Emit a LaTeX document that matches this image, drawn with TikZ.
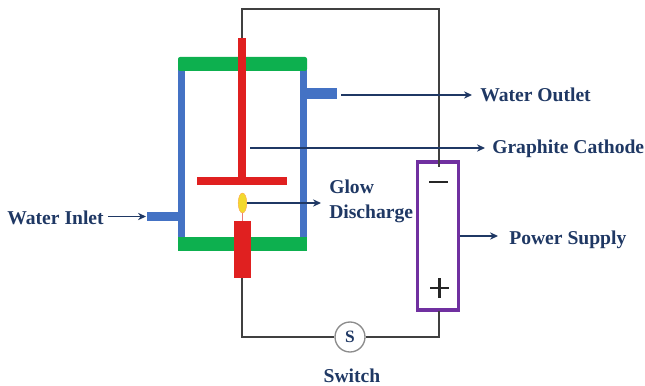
\documentclass[tikz,border=0pt]{standalone}
\usepackage{fontspec}
\setmainfont{Liberation Serif}
\usetikzlibrary{arrows.meta,shapes.geometric}
\definecolor{navy}{HTML}{1F3864}
\definecolor{wallblue}{HTML}{4472C4}
\definecolor{capgreen}{HTML}{0DB04F}
\definecolor{redpart}{HTML}{E02020}
\definecolor{flame}{HTML}{F2D92E}
\definecolor{boxpurple}{HTML}{7030A0}
\definecolor{wire}{HTML}{404040}
\tikzset{
 lab/.style={font=\bfseries\fontsize{14.7}{18.75}\selectfont,text=navy,inner sep=0pt},
 callout/.style={draw=navy,line width=0.9pt,-{Stealth[length=6pt,width=5.5pt]}},
 wireline/.style={draw=wire,line width=1.2pt},
 blockb/.style={fill=wallblue,draw=none},
 blockg/.style={fill=capgreen,draw=none},
 blockr/.style={fill=redpart,draw=none},
}
\begin{document}
\begin{tikzpicture}[x=0.75pt,y=-0.75pt]
\useasboundingbox (0,0) rectangle (645,385);
% wires
\coordinate (wtop) at (242,40);
\node[draw=black!45,fill=white,circle,line width=1pt,minimum size=22.5pt,inner sep=0pt,font=\bfseries\fontsize{13}{15}\selectfont,text=navy] (sw) at (350,337) {S};
\node[draw=boxpurple,line width=2.4pt,minimum width=31pt,minimum height=111pt,inner sep=0pt] (ps) at (438,236) {};
\coordinate (wbot) at (242,275);
\coordinate (wneg) at (439,167);
\draw[wireline] (wtop) -- (242,9) -- (439,9) -- (wneg);
\draw[wireline] (wbot) -- (242,337) -- (sw.west);
\draw[wireline] (sw.east) -- (439,337) -- (439,311);
% vessel
\fill[blockb] (178,60) rectangle (185,245);
\fill[blockb] (300,60) rectangle (307,245);
\fill[blockb] (307,88) rectangle (337,99);
\fill[blockb] (147,212) rectangle (180,221);
\fill[blockg,rounded corners=1.5pt] (178,57) rectangle (307,71);
\fill[blockg] (178,237) rectangle (307,251);
% electrodes
\fill[blockr] (238,38) rectangle (246,180);
\fill[blockr] (197,177) rectangle (287,185);
\fill[blockr] (234,221) rectangle (251,278);
\draw[redpart!60,line width=0.6pt] (242,212) -- (242,221);
\node[fill=flame,draw=orange!70,line width=0.3pt,ellipse,minimum width=6.5pt,minimum height=15pt,inner sep=0pt] (fl) at (242.5,203) {};
% labels
\node[lab,anchor=west] (out) at (480,95) {Water Outlet};
\node[lab,anchor=west] (cat) at (492,149) {Graphite Cathode};
\node[lab,anchor=west,align=left] (glow) at (329,201.5) {Glow\\Discharge};
\node[lab,anchor=east] (inl) at (104,218) {Water Inlet};
\node[lab,anchor=west] (pow) at (509,239.5) {Power Supply};
\node[lab] (swl) at (352,375.5) {Switch};
\draw[black!85,line width=2pt] (429,182) -- (448,182);
\draw[black!85,line width=2pt] (430,288) -- (449,288) (439.5,278) -- (439.5,298);
% callouts
\coordinate (a1) at (341,95);
\coordinate (a2) at (250,148);
\coordinate (a1e) at (472,95);
\coordinate (a2e) at (485,148);
\draw[callout] (a1) -- (a1e);
\draw[callout] (a2) -- (a2e);
\coordinate (a7) at (247,203);
\coordinate (a5) at (321,203);
\draw[callout] (a7) -- (a5);
\coordinate (a3) at (108,216.5);
\coordinate (a4) at (146,216.5);
\draw[callout] (a3) -- (a4);
\coordinate (a6) at (498,236);
\draw[callout] (ps.east) -- (a6);
\end{tikzpicture}
\end{document}
